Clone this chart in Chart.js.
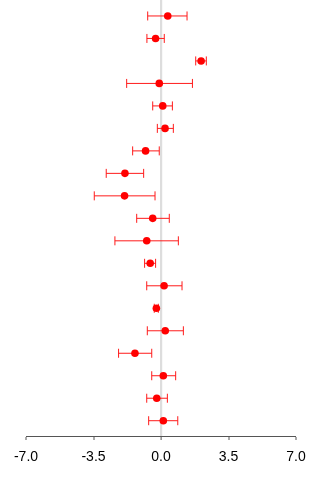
<!DOCTYPE html>
<html>
<head>
<meta charset="utf-8">
<script src="https://cdn.jsdelivr.net/npm/chart.js@4/dist/chart.umd.min.js"></script>
<style>
  html, body { margin: 0; padding: 0; background: #fff; }
  #wrap { width: 320px; height: 480px; }
</style>
</head>
<body>
<div id="wrap"><canvas id="c" width="320" height="480"></canvas></div>
<script>
// Estimates with lower / upper interval limits, listed top row first
const estimates = [0.35, -0.28, 2.08, -0.09, 0.09, 0.21, -0.80, -1.87, -1.89, -0.43,
                   -0.74, -0.56, 0.16, -0.24, 0.22, -1.35, 0.12, -0.22, 0.12];
const lower     = [-0.69, -0.73, 1.80, -1.78, -0.43, -0.19, -1.47, -2.84, -3.46, -1.26,
                   -2.39, -0.85, -0.74, -0.35, -0.71, -2.20, -0.48, -0.74, -0.64];
const upper     = [1.35, 0.17, 2.35, 1.63, 0.59, 0.64, -0.09, -0.90, -0.31, 0.43,
                   0.90, -0.28, 1.09, -0.14, 1.16, -0.48, 0.76, 0.33, 0.87];
const xTicks = [-7.0, -3.5, 0.0, 3.5, 7.0];

const n = estimates.length;
const rowPos = estimates.map((_, i) => n - i); // top row sits highest

const points = estimates.map((v, i) => ({ x: v, y: rowPos[i] }));

// Horizontal interval lines with end caps
const intervalPlugin = {
  id: 'intervals',
  beforeDatasetsDraw(chart) {
    const { ctx, scales: { x, y } } = chart;
    const cap = 4.5;
    ctx.save();
    ctx.strokeStyle = '#ff1a1a';
    ctx.lineWidth = 1;
    for (let i = 0; i < n; i++) {
      const py = y.getPixelForValue(rowPos[i]);
      const x0 = x.getPixelForValue(lower[i]);
      const x1 = x.getPixelForValue(upper[i]);
      ctx.beginPath();
      ctx.moveTo(x0, py); ctx.lineTo(x1, py);
      ctx.moveTo(x0, py - cap); ctx.lineTo(x0, py + cap);
      ctx.moveTo(x1, py - cap); ctx.lineTo(x1, py + cap);
      ctx.stroke();
    }
    ctx.restore();
  }
};

new Chart(document.getElementById('c'), {
  type: 'scatter',
  data: {
    datasets: [{
      data: points,
      backgroundColor: '#ff0000',
      borderColor: '#ff0000',
      borderWidth: 0,
      pointRadius: 3.8,
      pointHoverRadius: 3.8
    }]
  },
  options: {
    responsive: false,
    animation: false,
    events: [],
    layout: { autoPadding: false, padding: { left: 26, right: 24, top: 0, bottom: 0 } },
    plugins: { legend: { display: false }, tooltip: { enabled: false } },
    scales: {
      x: {
        type: 'linear',
        min: -7,
        max: 7,
        afterBuildTicks(scale) {
          scale.ticks = xTicks.map(v => ({ value: v }));
        },
        afterFit(scale) {
          scale.paddingLeft = 0;
          scale.paddingRight = 0;
          scale.height = 44;
        },
        ticks: {
          autoSkip: false,
          maxRotation: 0,
          padding: 9,
          color: '#000',
          font: { family: 'Liberation Sans, Arial, sans-serif', size: 14 },
          callback: v => Number(v).toFixed(1)
        },
        grid: {
          drawOnChartArea: true,
          color: c => (c.tick && c.tick.value === 0) ? '#dddddd' : 'rgba(0,0,0,0)',
          lineWidth: c => (c.tick && c.tick.value === 0) ? 2.2 : 0,
          drawTicks: true,
          tickLength: 4,
          tickColor: '#555555',
          tickWidth: 1
        },
        border: { display: true, color: '#555555', width: 1 }
      },
      y: {
        type: 'linear',
        display: false,
        min: 0.32,
        max: 19.71
      }
    }
  },
  plugins: [intervalPlugin]
});
</script>
</body>
</html>
